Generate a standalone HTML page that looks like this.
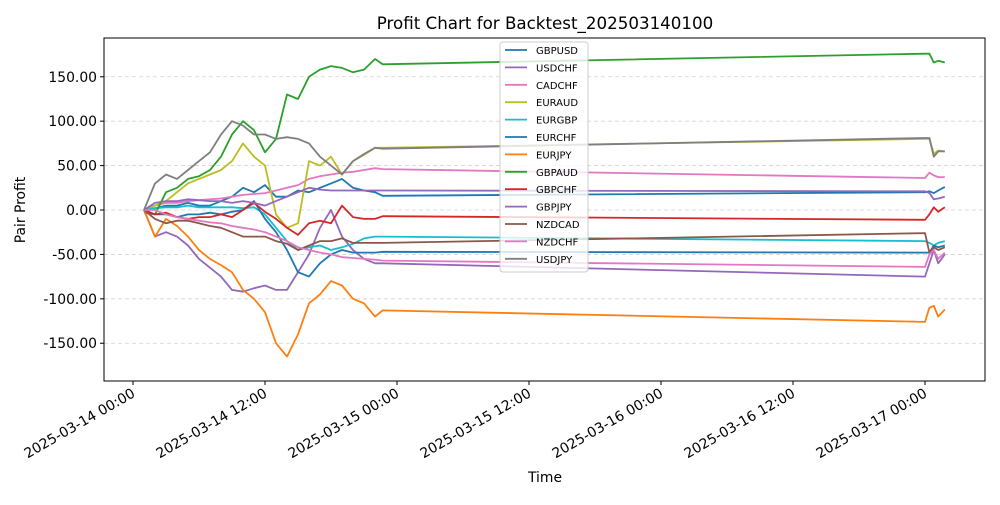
<!DOCTYPE html>
<html><head><meta charset="utf-8"><style>
body{margin:0;background:#fff;}
svg{font-family:"DejaVu Sans","Liberation Sans",sans-serif;}
</style></head><body>
<svg id="chart" width="1000" height="500" xmlns="http://www.w3.org/2000/svg">
<rect width="1000" height="500" fill="#fff"/>
<text x="545" y="29" text-anchor="middle" font-size="16.7">Profit Chart for Backtest_202503140100</text>
<text transform="translate(25,210) rotate(-90)" text-anchor="middle" font-size="13.9">Pair Profit</text>
<text x="545" y="482" text-anchor="middle" font-size="13.9">Time</text>
<g id="grid"></g><g id="series"></g><g id="axes"></g><g id="legend"></g>
</svg>
<script>
const hours=[1,2,3,4,5,6,7,8,9,10,11,12,13,14,15,16,17,18,19,20,21,22,22.7,72,72.4,72.8,73.2,73.8];
const yTicks=[-150,-100,-50,0,50,100,150];
const xTickHours=[0,12,24,36,48,60,72];
const xTickLabels=["2025-03-14 00:00","2025-03-14 12:00","2025-03-15 00:00","2025-03-15 12:00","2025-03-16 00:00","2025-03-16 12:00","2025-03-17 00:00"];
const names=["GBPUSD","USDCHF","CADCHF","EURAUD","EURGBP","EURCHF","EURJPY","GBPAUD","GBPCHF","GBPJPY","NZDCAD","NZDCHF","USDJPY"];
const colors=["#1f77b4","#9467bd","#e377c2","#bcbd22","#17becf","#1f77b4","#ff7f0e","#2ca02c","#d62728","#9467bd","#8c564b","#e377c2","#7f7f7f"];
const GBPUSD=[0,2,5,5,8,5,5,10,15,25,20,28,15,15,22,20,25,30,35,25,22,20,16,20,21,19,22,26];
const USDCHF=[0,-30,-25,-30,-40,-55,-65,-75,-90,-92,-88,-85,-90,-90,-70,-50,-20,0,-30,-45,-55,-60,-60,-75,-60,-45,-60,-50];
const CADCHF=[0,5,8,8,10,11,12,13,15,17,18,19,22,25,28,35,38,40,42,43,45,47,46,36,42,39,37,37];
const EURAUD=[0,5,10,20,30,35,40,45,55,75,60,50,-5,-20,-15,55,50,60,40,55,62,70,70,80,80,63,67,66];
const EURGBP=[0,2,3,3,5,3,3,3,3,2,3,-5,-20,-35,-45,-42,-40,-45,-42,-38,-32,-30,-30,-35,-37,-40,-37,-35];
const EURCHF=[-3,-5,-5,-8,-5,-5,-3,-5,-2,0,10,-10,-25,-45,-70,-75,-60,-50,-45,-48,-48,-48,-47,-48,-48,-40,-42,-40];
const EURJPY=[0,-30,-10,-18,-30,-45,-55,-62,-70,-90,-100,-115,-150,-165,-140,-105,-95,-80,-85,-100,-105,-120,-113,-126,-110,-108,-120,-112];
const GBPAUD=[0,-5,20,25,35,38,45,60,85,100,90,65,80,130,125,150,158,162,160,155,158,170,164,176,176,166,168,166];
const GBPCHF=[0,-5,-3,-8,-10,-8,-8,-5,-8,0,8,-2,-10,-20,-28,-15,-12,-15,5,-8,-10,-10,-7,-11,-5,3,-2,3];
const GBPJPY=[0,8,10,10,12,11,10,10,8,10,8,5,10,15,20,25,23,22,22,22,22,22,22,21,19,12,13,15];
const NZDCAD=[0,-10,-15,-12,-12,-15,-18,-20,-25,-30,-30,-30,-35,-38,-45,-40,-35,-35,-32,-37,-37,-37,-37,-26,-48,-42,-45,-42];
const NZDCHF=[0,0,-5,-8,-10,-12,-14,-15,-18,-20,-22,-25,-30,-35,-42,-45,-48,-50,-53,-54,-55,-56,-57,-64,-50,-45,-55,-48];
const USDJPY=[0,30,40,35,45,55,65,85,100,95,85,85,80,82,80,75,60,50,40,55,63,70,69,81,81,60,66,66];
const seriesValues=[GBPUSD,USDCHF,CADCHF,EURAUD,EURGBP,EURCHF,EURJPY,GBPAUD,GBPCHF,GBPJPY,NZDCAD,NZDCHF,USDJPY];

const L=104,R=985,T=38,B=381;
const xs=h=>133+h*11;
const ys=v=>210-v*0.8883;
const NS="http://www.w3.org/2000/svg";
function mk(tag,attrs,parent){const e=document.createElementNS(NS,tag);for(const k in attrs)e.setAttribute(k,attrs[k]);parent.appendChild(e);return e;}
const grid=document.getElementById('grid'),axes=document.getElementById('axes'),ser=document.getElementById('series'),leg=document.getElementById('legend');
yTicks.forEach(v=>{
  const g=mk('line',{x1:L,x2:R,y1:ys(v),y2:ys(v),stroke:'#d3d3d3','stroke-dasharray':'4,3','stroke-width':0.8},grid);
  
  
  const t=mk('line',{x1:L-4,x2:L,y1:ys(v),y2:ys(v),stroke:'#000'},axes);
  
  
  const lb=mk('text',{x:L-7,y:ys(v)+5,'text-anchor':'end','font-size':13.9},axes);
  lb.textContent=v.toFixed(2);
  
  
});
xTickHours.forEach((h,i)=>{
  const t=mk('line',{x1:xs(h),x2:xs(h),y1:B,y2:B+4,stroke:'#000'},axes);
  
  
  const lb=mk('text',{transform:`translate(${xs(h)+3},${B+15}) rotate(-30)`,'text-anchor':'end','font-size':13.9},axes);
  lb.textContent=xTickLabels[i];
  
  
});
seriesValues.forEach((vals,i)=>{
  const d=vals.map((v,j)=>(j?'L':'M')+xs(hours[j]).toFixed(1)+','+ys(v).toFixed(1)).join('');
  const p=mk('path',{d:d,fill:'none',stroke:colors[i],'stroke-width':1.8,'stroke-linejoin':'round'},ser);
  
  
});
const fr=mk('rect',{x:L,y:T,width:R-L,height:B-T,fill:'none',stroke:'#000','stroke-width':1},axes);


const lbox=mk('rect',{x:500,y:42,width:88,height:230,rx:3,fill:'#fff','fill-opacity':0.8,stroke:'#ccc'},leg);


names.forEach((n,i)=>{
  const y=50+i*17.4;
  const g=mk('g',{},leg);
  
  
  mk('line',{x1:505,x2:527,y1:y,y2:y,stroke:colors[i],'stroke-width':1.8},g);
  const t=mk('text',{x:536,y:y+4,'font-size':10},g);
  t.textContent=n;
});
</script>
</body></html>
